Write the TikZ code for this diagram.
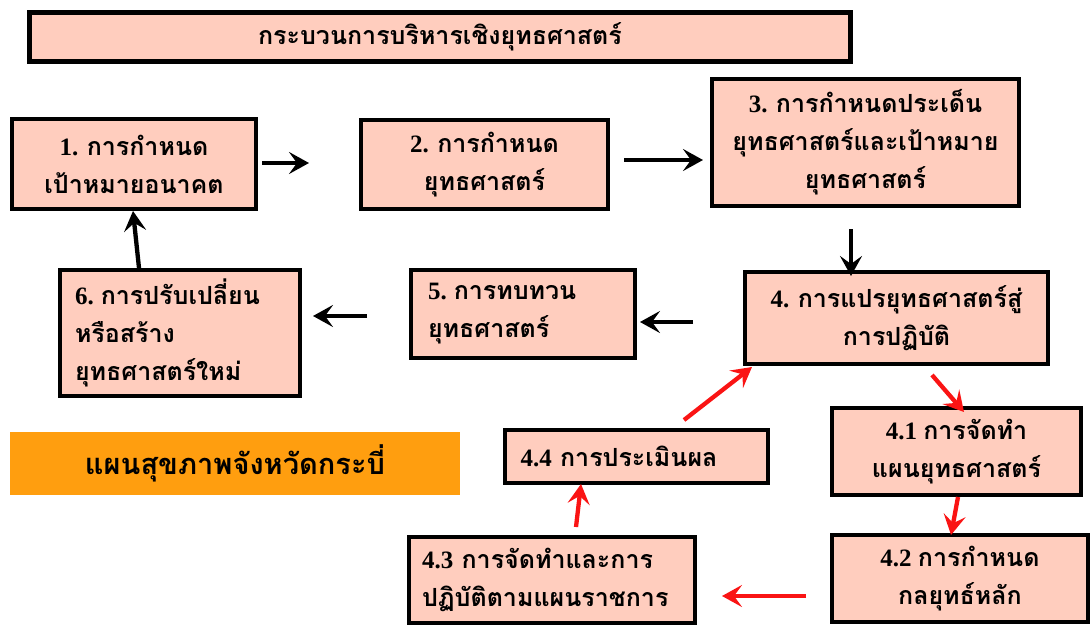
\documentclass[tikz,border=0pt]{standalone}
\usepackage{fontspec}
\usetikzlibrary{arrows.meta}
\setmainfont{Loma}[Script=Thai]
\newfontfamily\numfont{Liberation Serif}
\newcommand{\nm}[1]{{\numfont\bfseries #1}}
\definecolor{boxfill}{RGB}{255,205,190}
\definecolor{planorange}{RGB}{255,158,15}
\definecolor{flowred}{RGB}{250,20,20}
\tikzset{
  stepbox/.style={draw=black, line width=4.5pt, fill=boxfill, inner sep=0pt,
    font=\fontsize{25}{38}\selectfont\bfseries, align=center},
  leftbox/.style={stepbox, align=left},
  flowarrow/.style={line width=4.3pt, -{Stealth[length=20pt,width=22pt,inset=8pt]}},
  redarrow/.style={flowarrow, draw=flowred},
}
\begin{document}
\begin{tikzpicture}[x=1pt,y=-1pt]
\useasboundingbox (0,0) rectangle (1092,626);

% heading
\node[stepbox, minimum width=821pt, minimum height=49pt] (title) at (440,37)
  {กระบวนการบริหารเชิงยุทธศาสตร์};

% main cycle
\node[stepbox, minimum width=244pt, minimum height=90pt] (b1) at (134,164)
  {\nm{1. }การกำหนด\\เป้าหมายอนาคต};
\node[stepbox, minimum width=247pt, minimum height=89pt] (b2) at (484.5,164.5)
  {\nm{2. }การกำหนด\\ยุทธศาสตร์};
\node[stepbox, minimum width=307pt, minimum height=127pt] (b3) at (865.5,142.5)
  {\nm{3. }การกำหนดประเด็น\\ยุทธศาสตร์และเป้าหมาย\\ยุทธศาสตร์};
\node[stepbox, minimum width=303pt, minimum height=92pt] (b4) at (896.5,318)
  {\nm{4. }การแปรยุทธศาสตร์สู่\\การปฏิบัติ};
\node[leftbox, minimum width=224pt, minimum height=88pt, text width=190pt] (b5) at (523,314)
  {\nm{5.}\hspace{7pt}การทบทวน\\ยุทธศาสตร์};
\node[leftbox, minimum width=240pt, minimum height=126pt, text width=210pt] (b6) at (180,333)
  {\nm{6.}\hspace{7pt}การปรับเปลี่ยน\\หรือสร้าง\\ยุทธศาสตร์ใหม่};

% sub-steps of step 4
\node[stepbox, minimum width=249pt, minimum height=87pt] (s1) at (956.5,451.5)
  {\nm{4.1 }การจัดทำ\\แผนยุทธศาสตร์};
\node[stepbox, minimum width=256pt, minimum height=87pt] (s2) at (960,578.5)
  {\nm{4.2 }การกำหนด\\กลยุทธ์หลัก};
\node[leftbox, minimum width=286pt, minimum height=86pt, text width=260pt] (s3) at (552,580)
  {\nm{4.3 }การจัดทำและการ\\ปฏิบัติตามแผนราชการ};
\node[leftbox, minimum width=263pt, minimum height=53pt, text width=232pt] (s4) at (636.5,456.5)
  {\nm{4.4 }การประเมินผล};

% province label
\node[fill=planorange, minimum width=450pt, minimum height=63pt, inner sep=0pt,
  font=\fontsize{29}{34}\selectfont\bfseries] (plan) at (235,463.5)
  {แผนสุขภาพจังหวัดกระบี่};

% arrow end points
\coordinate (a12s) at (262,163); \coordinate (a12e) at (309,163);
\coordinate (a23s) at (624,160); \coordinate (a23e) at (703,160);
\coordinate (a34s) at (851,229); \coordinate (a34e) at (851,276);
\coordinate (a45s) at (693,322); \coordinate (a45e) at (640,322);
\coordinate (a56s) at (367,316); \coordinate (a56e) at (313,316);
\coordinate (a61s) at (139,268); \coordinate (a61e) at (133,211);
\coordinate (r1s) at (932,375); \coordinate (r1e) at (964,412);
\coordinate (r2s) at (958,497); \coordinate (r2e) at (951,535);
\coordinate (r3s) at (806,596); \coordinate (r3e) at (722,596);
\coordinate (r4s) at (576,527); \coordinate (r4e) at (581,484);
\coordinate (r5s) at (684,420); \coordinate (r5e) at (752,367);

\draw[flowarrow] (a12s) -- (a12e);
\draw[flowarrow] (a23s) -- (a23e);
\draw[flowarrow] (a34s) -- (a34e);
\draw[flowarrow] (a45s) -- (a45e);
\draw[flowarrow] (a56s) -- (a56e);
\draw[flowarrow] (a61s) -- (a61e);

\draw[redarrow] (r1s) -- (r1e);
\draw[redarrow] (r2s) -- (r2e);
\draw[redarrow] (r3s) -- (r3e);
\draw[redarrow] (r4s) -- (r4e);
\draw[redarrow] (r5s) -- (r5e);
\end{tikzpicture}
\end{document}
